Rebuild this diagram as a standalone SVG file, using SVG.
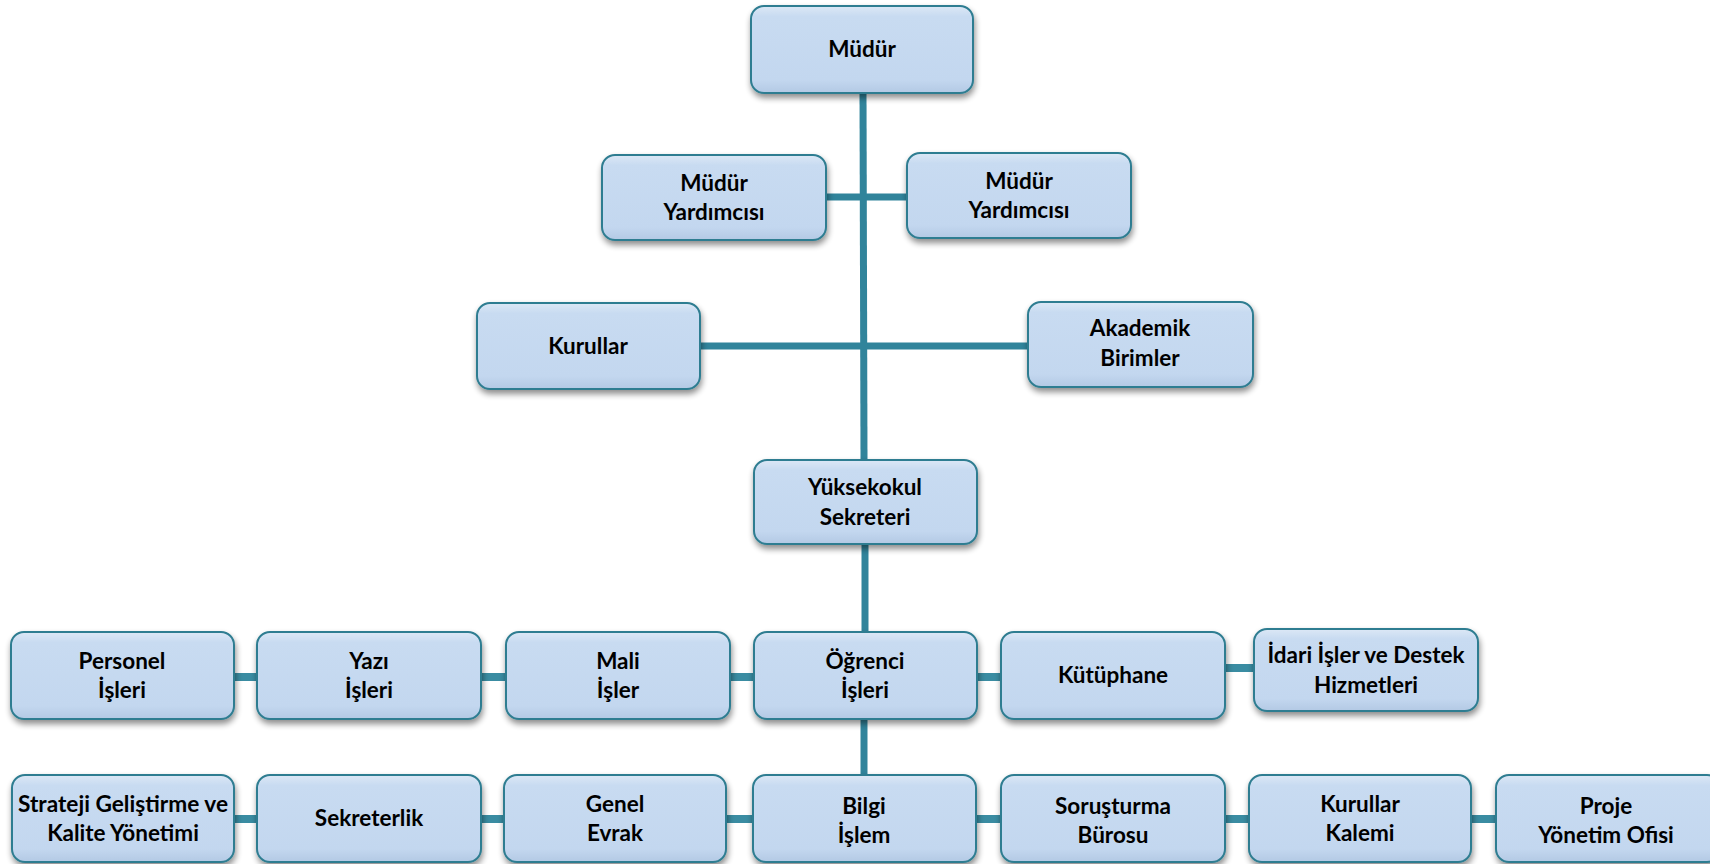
<svg xmlns="http://www.w3.org/2000/svg" width="1710" height="864" viewBox="0 0 1710 864">
<defs>
<linearGradient id="boxfill" x1="0" y1="0" x2="0" y2="1">
<stop offset="0" stop-color="#dce8f6"/>
<stop offset="0.12" stop-color="#c8dbf1"/>
<stop offset="0.85" stop-color="#c3d7ef"/>
<stop offset="1" stop-color="#b3c9e4"/>
</linearGradient>
<filter id="shadow" x="-10%" y="-10%" width="120%" height="130%">
<feGaussianBlur in="SourceAlpha" stdDeviation="3"/>
<feOffset dx="1" dy="4" result="b"/>
<feComponentTransfer><feFuncA type="linear" slope="0.45"/></feComponentTransfer>
<feMerge><feMergeNode/><feMergeNode in="SourceGraphic"/></feMerge>
</filter>
</defs>
<style>
.box{fill:url(#boxfill);stroke:#2f7d91;stroke-width:2;filter:url(#shadow)}
.t{font-family:Lato,"Open Sans","Liberation Sans",sans-serif;font-weight:bold;font-size:22.5px;fill:#000;text-anchor:middle}
.c{stroke:#31849b;stroke-width:7;fill:none}
.l{stroke:#3a8ca2;stroke-width:8;fill:none}
</style>
<g id="connectors">
<line class="c" x1="863" y1="93" x2="864" y2="460"/>
<line class="c" x1="865" y1="544" x2="865" y2="632"/>
<line class="c" x1="864" y1="719" x2="864" y2="775"/>
<line class="c" x1="826" y1="197" x2="907" y2="197"/>
<line class="c" x1="700" y1="346" x2="1028" y2="346"/>
<line class="l" x1="234" y1="677" x2="257" y2="677"/>
<line class="l" x1="481" y1="677" x2="506" y2="677"/>
<line class="l" x1="730" y1="677" x2="754" y2="677"/>
<line class="l" x1="977" y1="677" x2="1001" y2="677"/>
<line class="l" x1="1225" y1="668" x2="1254" y2="668"/>
<line class="l" x1="234" y1="819" x2="257" y2="819"/>
<line class="l" x1="481" y1="819" x2="504" y2="819"/>
<line class="l" x1="726" y1="819" x2="753" y2="819"/>
<line class="l" x1="976" y1="819" x2="1001" y2="819"/>
<line class="l" x1="1225" y1="819" x2="1249" y2="819"/>
<line class="l" x1="1471" y1="819" x2="1496" y2="819"/>
</g>
<g id="mudur"><rect class="box" x="751" y="6" width="222" height="87" rx="13"/><text class="t" x="862" y="57">Müdür</text></g>
<g id="mudur-yardimcisi-1"><rect class="box" x="602" y="155" width="224" height="85" rx="13"/><text class="t" x="714" y="191">Müdür</text><text class="t" x="714" y="220">Yardımcısı</text></g>
<g id="mudur-yardimcisi-2"><rect class="box" x="907" y="153" width="224" height="85" rx="13"/><text class="t" x="1019" y="189">Müdür</text><text class="t" x="1019" y="218">Yardımcısı</text></g>
<g id="kurullar"><rect class="box" x="477" y="303" width="223" height="86" rx="13"/><text class="t" x="588" y="354">Kurullar</text></g>
<g id="akademik-birimler"><rect class="box" x="1028" y="302" width="225" height="85" rx="13"/><text class="t" x="1140" y="336">Akademik</text><text class="t" x="1140" y="366">Birimler</text></g>
<g id="yuksekokul-sekreteri"><rect class="box" x="754" y="460" width="223" height="84" rx="13"/><text class="t" x="865" y="495">Yüksekokul</text><text class="t" x="865" y="525">Sekreteri</text></g>
<g id="personel-isleri"><rect class="box" x="11" y="632" width="223" height="87" rx="13"/><text class="t" x="122" y="669">Personel</text><text class="t" x="122" y="698">İşleri</text></g>
<g id="yazi-isleri"><rect class="box" x="257" y="632" width="224" height="87" rx="13"/><text class="t" x="369" y="669">Yazı</text><text class="t" x="369" y="698">İşleri</text></g>
<g id="mali-isler"><rect class="box" x="506" y="632" width="224" height="87" rx="13"/><text class="t" x="618" y="669">Mali</text><text class="t" x="618" y="698">İşler</text></g>
<g id="ogrenci-isleri"><rect class="box" x="754" y="632" width="223" height="87" rx="13"/><text class="t" x="865" y="669">Öğrenci</text><text class="t" x="865" y="698">İşleri</text></g>
<g id="kutuphane"><rect class="box" x="1001" y="632" width="224" height="87" rx="13"/><text class="t" x="1113" y="683">Kütüphane</text></g>
<g id="idari-isler"><rect class="box" x="1254" y="629" width="224" height="82" rx="13"/><text class="t" x="1366" y="663">İdari İşler ve Destek</text><text class="t" x="1366" y="693">Hizmetleri</text></g>
<g id="strateji"><rect class="box" x="12" y="775" width="222" height="87" rx="13"/><text class="t" x="123" y="812" textLength="210" lengthAdjust="spacingAndGlyphs">Strateji Geliştirme ve</text><text class="t" x="123" y="841">Kalite Yönetimi</text></g>
<g id="sekreterlik"><rect class="box" x="257" y="775" width="224" height="87" rx="13"/><text class="t" x="369" y="826">Sekreterlik</text></g>
<g id="genel-evrak"><rect class="box" x="504" y="775" width="222" height="87" rx="13"/><text class="t" x="615" y="812">Genel</text><text class="t" x="615" y="841">Evrak</text></g>
<g id="bilgi-islem"><rect class="box" x="753" y="775" width="223" height="87" rx="13"/><text class="t" x="864" y="814">Bilgi</text><text class="t" x="864" y="843">İşlem</text></g>
<g id="sorusturma-burosu"><rect class="box" x="1001" y="775" width="224" height="87" rx="13"/><text class="t" x="1113" y="814">Soruşturma</text><text class="t" x="1113" y="843">Bürosu</text></g>
<g id="kurullar-kalemi"><rect class="box" x="1249" y="775" width="222" height="87" rx="13"/><text class="t" x="1360" y="812">Kurullar</text><text class="t" x="1360" y="841">Kalemi</text></g>
<g id="proje-yonetim-ofisi"><rect class="box" x="1496" y="775" width="224" height="87" rx="13"/><text class="t" x="1606" y="814">Proje</text><text class="t" x="1606" y="843">Yönetim Ofisi</text></g>
</svg>
